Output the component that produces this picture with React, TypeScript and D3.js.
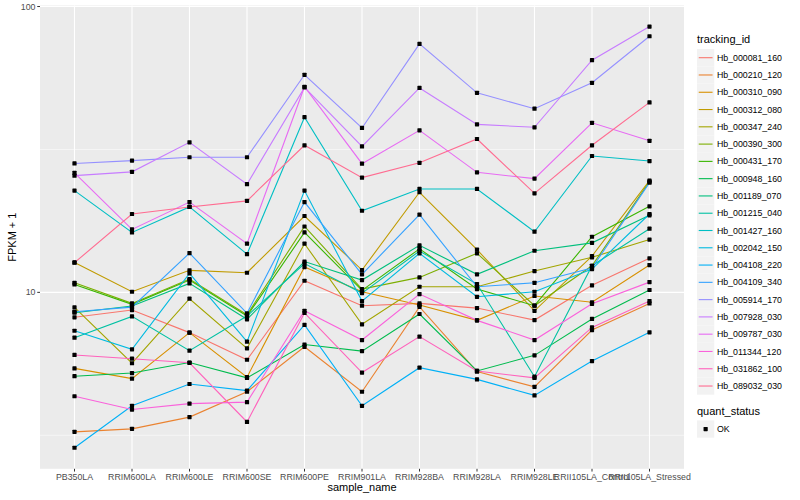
import * as d3 from "d3";

// sample columns, in plot order
const categories = [
  "PB350LA",
  "RRIM600LA",
  "RRIM600LE",
  "RRIM600SE",
  "RRIM600PE",
  "RRIM901LA",
  "RRIM928BA",
  "RRIM928LA",
  "RRIM928LE",
  "RRII105LA_Control",
  "RRII105LA_Stressed",
];

const trackingIds = [
  "Hb_000081_160",
  "Hb_000210_120",
  "Hb_000310_090",
  "Hb_000312_080",
  "Hb_000347_240",
  "Hb_000390_300",
  "Hb_000431_170",
  "Hb_000948_160",
  "Hb_001189_070",
  "Hb_001215_040",
  "Hb_001427_160",
  "Hb_002042_150",
  "Hb_004108_220",
  "Hb_004109_340",
  "Hb_005914_170",
  "Hb_007928_030",
  "Hb_009787_030",
  "Hb_011344_120",
  "Hb_031862_100",
  "Hb_089032_030",
];

// FPKM + 1, one value per sample column
const hb000081_160 = [8.18, 8.67, 7.23, 5.81, 10.98, 8.98, 9.15, 8.81, 8.0, 10.58, 13.15];
const hb000210_120 = [3.25, 3.33, 3.66, 4.49, 6.45, 4.49, 8.9, 5.28, 4.67, 7.38, 9.15];
const hb000310_090 = [5.42, 4.99, 7.23, 5.05, 12.26, 10.05, 9.03, 7.98, 9.71, 9.23, 12.46];
const hb000312_080 = [12.73, 10.05, 11.94, 11.71, 18.5, 11.97, 22.4, 14.1, 8.62, 13.4, 24.6];
const hb000347_240 = [8.86, 5.65, 9.5, 6.37, 14.8, 7.73, 10.46, 10.46, 11.87, 13.26, 15.3];
const hb000390_300 = [10.8, 9.15, 11.13, 8.35, 17.0, 10.27, 11.28, 13.7, 8.98, 12.39, 24.4];
const hb000431_170 = [10.66, 9.08, 11.04, 8.26, 16.2, 10.16, 14.2, 10.27, 8.98, 15.65, 20.0];
const hb000948_160 = [5.09, 5.22, 5.68, 5.02, 6.57, 6.23, 8.4, 5.31, 6.02, 8.07, 10.19];
const hb001189_070 = [8.49, 8.96, 10.75, 8.05, 12.82, 11.04, 14.6, 11.56, 13.98, 14.9, 18.6];
const hb001215_040 = [6.94, 8.24, 6.25, 8.26, 12.61, 9.94, 13.95, 10.69, 5.07, 12.39, 16.7];
const hb001427_160 = [22.7, 16.2, 19.9, 13.6, 41.0, 19.3, 23.0, 23.0, 16.3, 30.0, 28.8];
const hb002042_150 = [7.34, 6.32, 11.65, 6.72, 22.7, 9.32, 13.69, 9.65, 10.05, 12.06, 18.8];
const hb004108_220 = [2.86, 4.01, 4.78, 4.53, 7.69, 4.01, 5.45, 4.96, 4.36, 5.75, 7.25];
const hb004109_340 = [8.55, 8.88, 13.72, 8.45, 20.7, 11.56, 18.7, 10.46, 10.8, 12.16, 24.2];
const hb005914_170 = [28.25, 28.9, 29.7, 29.7, 57.7, 37.6, 74.0, 49.9, 43.9, 54.1, 78.7];
const hb007928_030 = [25.6, 26.4, 33.5, 23.9, 52.1, 32.4, 51.9, 38.7, 37.8, 64.9, 85.1];
const hb009787_030 = [26.2, 16.6, 20.7, 14.8, 52.4, 28.2, 36.9, 26.3, 25.0, 39.2, 33.9];
const hb011344_120 = [4.33, 3.89, 4.08, 4.13, 8.62, 6.81, 9.86, 7.98, 6.81, 9.12, 10.86];
const hb031862_100 = [6.04, 5.86, 5.67, 3.52, 8.47, 5.24, 7.0, 5.31, 5.02, 7.54, 9.32];
const hb089032_030 = [12.7, 18.8, 19.9, 20.9, 32.7, 25.2, 28.4, 34.4, 22.2, 32.7, 46.2];

const seriesValues = [
  hb000081_160, hb000210_120, hb000310_090, hb000312_080, hb000347_240,
  hb000390_300, hb000431_170, hb000948_160, hb001189_070, hb001215_040,
  hb001427_160, hb002042_150, hb004108_220, hb004109_340, hb005914_170,
  hb007928_030, hb009787_030, hb011344_120, hb031862_100, hb089032_030,
];

const yMajorTicks = [10, 100];
const quantLevels = ["OK"];

// ggplot2 default hue palette for 20 levels
const huePalette = [
  "#F8766D", "#EA8331", "#D89000", "#C09B00", "#A3A500",
  "#7CAE00", "#39B600", "#00BB4E", "#00BF7D", "#00C1A3",
  "#00BFC4", "#00BAE0", "#00B0F6", "#35A2FF", "#9590FF",
  "#C77CFF", "#E76BF3", "#FA62DB", "#FF62BC", "#FF6C91",
];

const W = 800;
const H = 500;
const panel = { left: 40, right: 684, top: 5.5, bottom: 468.8 };
const font = "'Liberation Sans', Arial, Helvetica, sans-serif";

export default function App() {
  const x = d3
    .scalePoint<string>()
    .domain(categories)
    .range([panel.left, panel.right])
    .padding(0.6);

  // log scale with ggplot's 5% expansion in transformed space
  const all = seriesValues.flat();
  const lo = Math.log10(d3.min(all) as number);
  const hi = Math.log10(d3.max(all) as number);
  const pad = (hi - lo) * 0.05;
  const y = d3
    .scaleLog()
    .domain([Math.pow(10, lo - pad), Math.pow(10, hi + pad)])
    .range([panel.bottom, panel.top]);

  const minorTicks = [Math.sqrt(1 * 10), Math.sqrt(10 * 100)];

  const line = d3
    .line<number>()
    .x((_, i) => x(categories[i]) as number)
    .y((v) => y(v));

  const keySize = 17.28;
  const legendX = 697;
  const legendTop = 49.06;
  const quantTop = 420.4;

  return (
    <div style={{ position: "absolute", left: 0, top: 0 }}>
      <svg width={W} height={H} style={{ display: "block", fontFamily: font }}>
        <rect width={W} height={H} fill="#ffffff" />
        <rect
          x={panel.left}
          y={panel.top}
          width={panel.right - panel.left}
          height={panel.bottom - panel.top}
          fill="#EBEBEB"
        />
        {minorTicks.map((t) => (
          <line key={"mn" + t} x1={panel.left} x2={panel.right} y1={y(t)} y2={y(t)} stroke="#fff" strokeWidth={0.55} />
        ))}
        {yMajorTicks.map((t) => (
          <line key={"mj" + t} x1={panel.left} x2={panel.right} y1={y(t)} y2={y(t)} stroke="#fff" strokeWidth={1.1} />
        ))}
        {categories.map((c) => (
          <line key={"vg" + c} x1={x(c)} x2={x(c)} y1={panel.top} y2={panel.bottom} stroke="#fff" strokeWidth={1.1} />
        ))}

        <g fill="none" strokeWidth={1.1}>
          {seriesValues.map((vals, i) => (
            <path key={trackingIds[i]} d={line(vals) as string} stroke={huePalette[i]} />
          ))}
        </g>
        <g fill="#000">
          {seriesValues.map((vals, i) =>
            vals.map((v, j) => (
              <rect
                key={trackingIds[i] + j}
                x={(x(categories[j]) as number) - 2.1}
                y={y(v) - 2.1}
                width={4.2}
                height={4.2}
                rx={0.6}
              />
            ))
          )}
        </g>

        {/* y axis */}
        {yMajorTicks.map((t) => (
          <g key={"yt" + t}>
            <line x1={panel.left - 2.75} x2={panel.left} y1={y(t)} y2={y(t)} stroke="#333" strokeWidth={1} />
            <text x={panel.left - 4.5} y={y(t) + 3.1} fontSize={8.8} fill="#4D4D4D" textAnchor="end">
              {t}
            </text>
          </g>
        ))}
        {/* x axis */}
        {categories.map((c) => (
          <g key={"xt" + c}>
            <line x1={x(c)} x2={x(c)} y1={panel.bottom} y2={panel.bottom + 2.75} stroke="#333" strokeWidth={1} />
            <text x={x(c)} y={480.3} fontSize={8.8} fill="#4D4D4D" textAnchor="middle">
              {c}
            </text>
          </g>
        ))}
        <text x={(panel.left + panel.right) / 2} y={490.5} fontSize={11} textAnchor="middle" fill="#000">
          sample_name
        </text>
        <text
          transform={`translate(15.5,${(panel.top + panel.bottom) / 2}) rotate(-90)`}
          fontSize={11}
          textAnchor="middle"
          fill="#000"
        >
          FPKM + 1
        </text>

        {/* legend: tracking_id */}
        <text x={legendX} y={43.2} fontSize={11} fill="#000">
          tracking_id
        </text>
        {trackingIds.map((id, i) => {
          const top = legendTop + i * keySize;
          return (
            <g key={"lg" + id}>
              <rect x={legendX} y={top} width={keySize} height={keySize} fill="#F2F2F2" />
              <line
                x1={legendX + keySize * 0.1}
                x2={legendX + keySize * 0.9}
                y1={top + keySize / 2}
                y2={top + keySize / 2}
                stroke={huePalette[i]}
                strokeWidth={1.1}
              />
              <text x={legendX + keySize + 2.6} y={top + keySize / 2 + 3.1} fontSize={8.8} fill="#000">
                {id}
              </text>
            </g>
          );
        })}

        {/* legend: quant_status */}
        <text x={legendX} y={414.8} fontSize={11} fill="#000">
          quant_status
        </text>
        {quantLevels.map((q, i) => {
          const top = quantTop + i * keySize;
          return (
            <g key={"q" + q}>
              <rect x={legendX} y={top} width={keySize} height={keySize} fill="#F2F2F2" />
              <rect x={legendX + keySize / 2 - 2.1} y={top + keySize / 2 - 2.1} width={4.2} height={4.2} rx={0.6} fill="#000" />
              <text x={legendX + keySize + 2.6} y={top + keySize / 2 + 3.1} fontSize={8.8} fill="#000">
                {q}
              </text>
            </g>
          );
        })}
      </svg>
    </div>
  );
}
